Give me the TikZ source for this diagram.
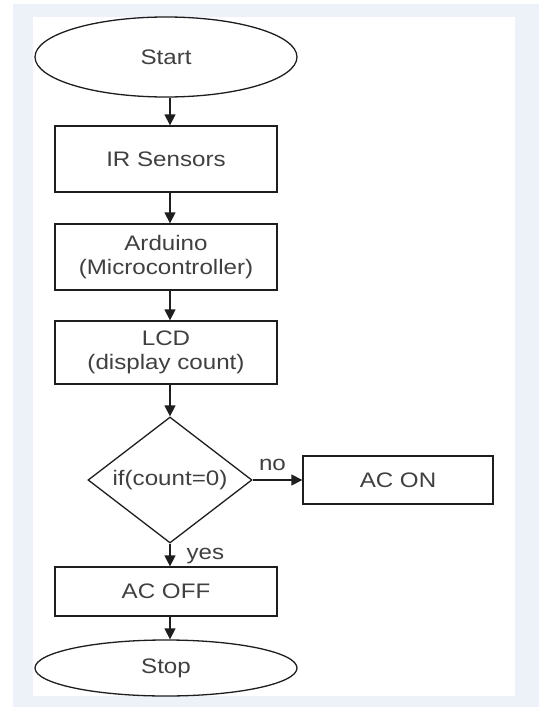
\documentclass[tikz,border=0pt]{standalone}
\usepackage{fontspec}
\setmainfont[FakeStretch=1.15]{Liberation Sans}
\usetikzlibrary{shapes.geometric,arrows.meta}
\definecolor{bandcol}{HTML}{EDF1F8}
\definecolor{txtcol}{HTML}{404040}
\definecolor{linecol}{HTML}{1E1E1E}
\tikzset{
  base/.style={draw=linecol, line width=1.3pt, fill=white, text=txtcol, inner sep=0pt, align=center,
    font=\fontsize{21}{24}\selectfont},
  terminal/.style={base, ellipse, minimum width=262pt},
  procbox/.style={base, rectangle, minimum width=222pt, minimum height=66pt},
  smallbox/.style={base, rectangle, minimum width=222pt, minimum height=49pt},
  decision/.style={base, diamond, aspect=1.3, minimum width=164pt, minimum height=126pt},
  flow/.style={draw=linecol, line width=1.3pt, -{Triangle[length=11pt,width=11pt]}},
  lbl/.style={text=txtcol, font=\fontsize{21}{24}\selectfont, inner sep=0pt}
}
\begin{document}
\begin{tikzpicture}[x=1pt, y=-1pt]
\useasboundingbox (0,0) rectangle (539,707);
\fill[white] (0,0) rectangle (539,707);
\fill[bandcol] (13,4) rectangle (539,707);
\fill[white] (33,17) rectangle (515,696);

\node[terminal, minimum height=80pt] (start) at (166,57) {Start};
\node[procbox] (ir) at (166,159) {IR Sensors};
\node[procbox] (ard) at (166,257) {Arduino\\(Microcontroller)};
\node[procbox, minimum height=63pt] (lcd) at (166,352.5) {LCD\\(display count)};
\node[decision] (dec) at (170,480) {if(count=0)};
\node[base, rectangle, minimum width=190pt, minimum height=48pt] (acon) at (398,480) {AC ON};
\node[smallbox] (acoff) at (166,591.5) {AC OFF};
\node[terminal, minimum height=56pt] (stop) at (166,668) {Stop};

\draw[flow] (start.south -| dec.north) -- (ir.north -| dec.north);
\draw[flow] (ir.south -| dec.north) -- (ard.north -| dec.north);
\draw[flow] (ard.south -| dec.north) -- (lcd.north -| dec.north);
\draw[flow] (lcd.south -| dec.north) -- (dec.north);
\draw[flow] (dec.east) -- node[lbl, above=9pt, xshift=-5pt] (nolbl) {no} (acon.west);
\draw[flow] (dec.south) -- node[lbl, right=16pt, yshift=-1pt] (yeslbl) {yes} (acoff.north -| dec.south);
\draw[flow] (acoff.south -| dec.south) -- (stop.north -| dec.south);
\end{tikzpicture}
\end{document}
